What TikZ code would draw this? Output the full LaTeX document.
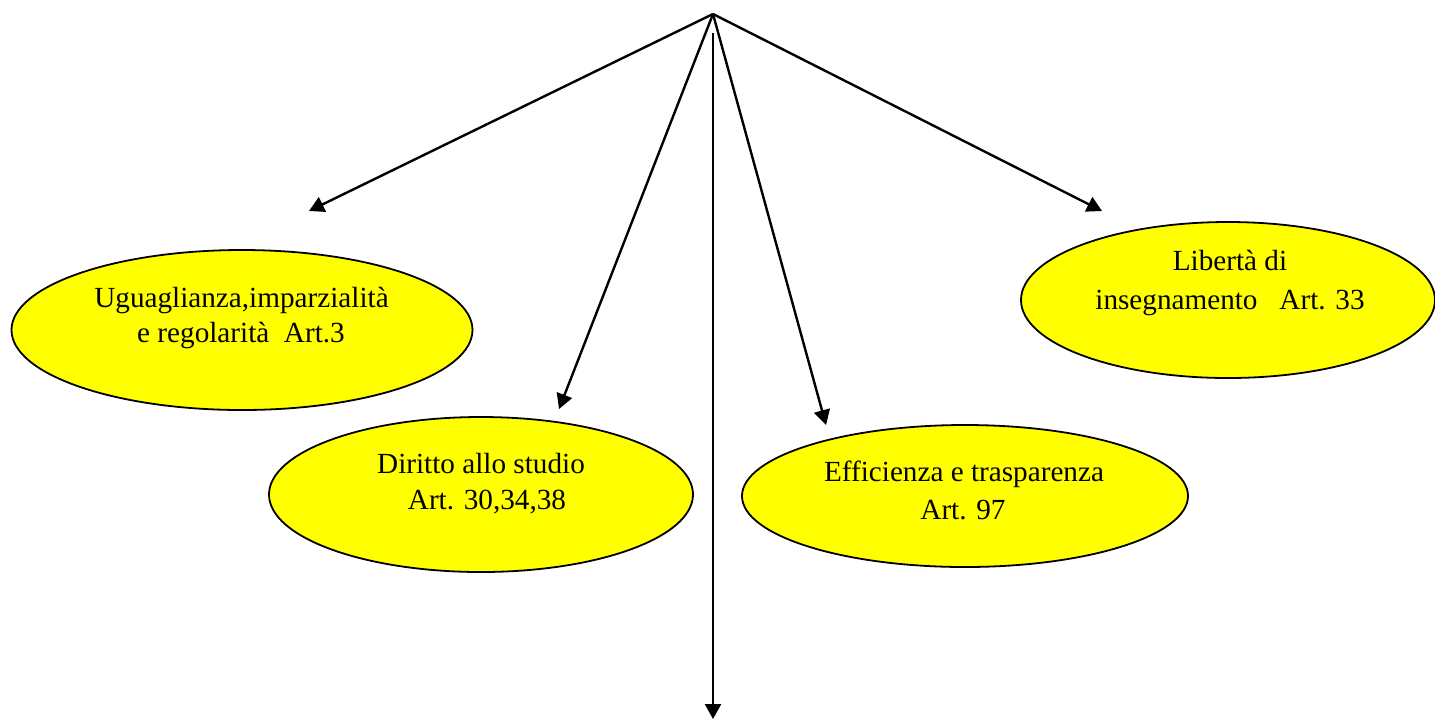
\documentclass[tikz,border=0pt]{standalone}
\usepackage{fontspec}
\setmainfont{Liberation Serif}
\usetikzlibrary{arrows.meta,shapes.geometric}
\definecolor{ylw}{RGB}{255,255,0}
\begin{document}
\begin{tikzpicture}[x=0.5pt,y=-0.5pt,
  oval/.style={ellipse,draw=black,line width=0.9pt,fill=ylw,inner sep=0pt},
  lbl/.style={anchor=base,inner sep=0pt,font=\fontsize{14.6pt}{17pt}\selectfont},
  conn/.style={line width=1.2pt,-{Triangle[length=7.5pt,width=8pt]}}]
\useasboundingbox (0,0) rectangle (1435,720);
% ellipses
\node[oval,minimum width=461*0.5pt,minimum height=160*0.5pt] (e1) at (242,330) {};
\node[oval,minimum width=424*0.5pt,minimum height=155*0.5pt] (e2) at (481,494.5) {};
\node[oval,minimum width=446*0.5pt,minimum height=142*0.5pt] (e3) at (965,496) {};
\node[oval,minimum width=414*0.5pt,minimum height=156*0.5pt] (e4) at (1228,300) {};
% labels
\node[lbl] (t1a) at (241.5,307) {Uguaglianza,imparzialità};
\node[lbl] (t1b) at (241,342) {e regolarità\ \ Art.3};
\node[lbl] (t2a) at (481,473) {Diritto allo studio};
\node[lbl] (t2b) at (487,509) {Art. 30,34,38};
\node[lbl] (t3a) at (964,481) {Efficienza e trasparenza};
\node[lbl] (t3b) at (963,519) {Art. 97};
\node[lbl] (t4a) at (1230,270) {Libertà di};
\node[lbl] (t4b) at (1230,309) {insegnamento\ \ \ Art. 33};
% connectors
\coordinate (top) at (713,14);
\coordinate (vtop) at (713,33);
\coordinate (p1) at (309,211);
\coordinate (p2) at (559,409);
\coordinate (p3) at (826,425);
\coordinate (p4) at (1102,211);
\coordinate (p5) at (713,719);
\draw[conn] (top) -- (p1);
\draw[conn] (top) -- (p2);
\draw[conn] (top) -- (p3);
\draw[conn] (top) -- (p4);
\draw[conn] (vtop) -- (p5);
\end{tikzpicture}
\end{document}
